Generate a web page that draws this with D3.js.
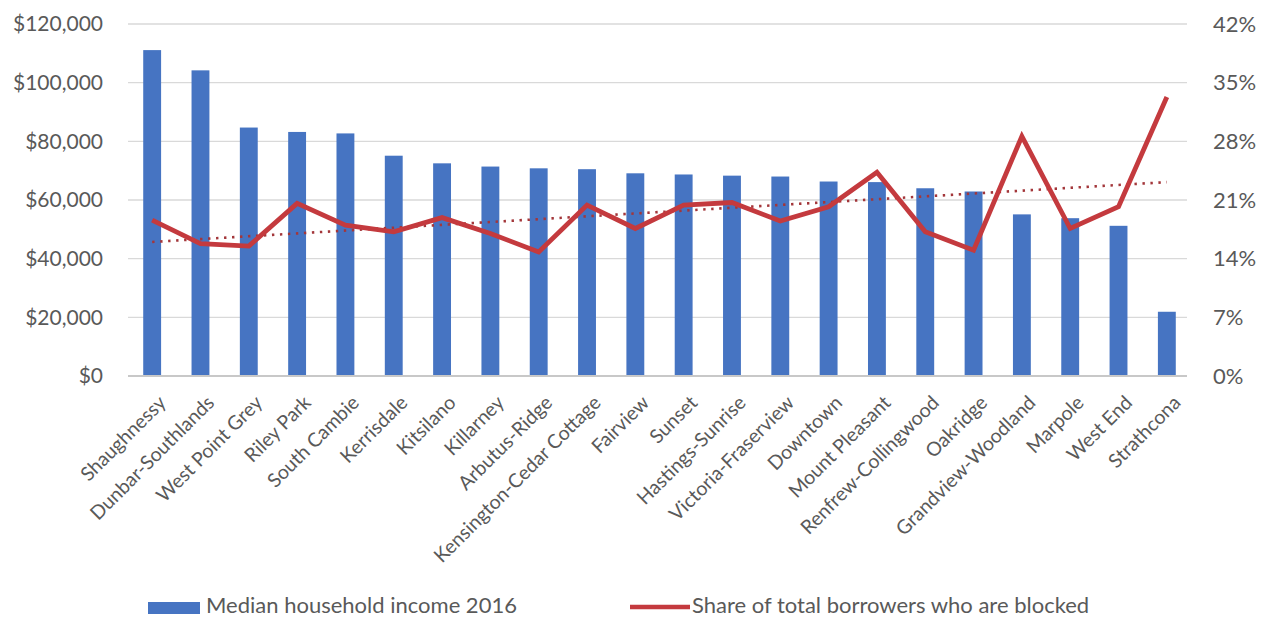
<!DOCTYPE html>
<html>
<head>
<meta charset="utf-8">
<script src="https://cdn.jsdelivr.net/npm/d3@7"></script>
<style>
  html, body { margin: 0; padding: 0; background: #fff; }
  svg { display: block; font-family: Lato, "Open Sans", sans-serif; }
</style>
</head>
<body>
<svg id="chart" width="1265" height="620"></svg>
<script>
// Vancouver neighbourhoods, ordered by median household income
const neighbourhoods = [
  "Shaughnessy", "Dunbar-Southlands", "West Point Grey", "Riley Park", "South Cambie",
  "Kerrisdale", "Kitsilano", "Killarney", "Arbutus-Ridge", "Kensington-Cedar Cottage",
  "Fairview", "Sunset", "Hastings-Sunrise", "Victoria-Fraserview", "Downtown",
  "Mount Pleasant", "Renfrew-Collingwood", "Oakridge", "Grandview-Woodland", "Marpole",
  "West End", "Strathcona"
];

// Median household income 2016 (CAD)
const medianIncome = [
  111100, 104200, 84700, 83200, 82700,
  75100, 72500, 71400, 70800, 70500,
  69100, 68700, 68300, 68000, 66300,
  66100, 64000, 62900, 55100, 53800,
  51200, 21900
];

// Share of total borrowers who are blocked (fraction)
const blockedShare = [
  0.186, 0.158, 0.155, 0.206, 0.180,
  0.172, 0.189, 0.170, 0.148, 0.204,
  0.176, 0.204, 0.207, 0.185, 0.202,
  0.243, 0.172, 0.150, 0.286, 0.176,
  0.202, 0.333
];

const incomeTicks = [0, 20000, 40000, 60000, 80000, 100000, 120000];
const shareTicks = [0, 0.07, 0.14, 0.21, 0.28, 0.35, 0.42];

const legendLabels = ["Median household income 2016", "Share of total borrowers who are blocked"];

const colors = { bar: "#4674c2", line: "#c43a3e", trend: "#a3363a", grid: "#d9d9d9", text: "#595959" };

const svg = d3.select("#chart");
const plot = { left: 128, right: 1191, top: 24, bottom: 376 };

const x = d3.scaleBand()
  .domain(neighbourhoods)
  .range([plot.left, plot.right])
  .paddingInner(0.63)
  .paddingOuter(0.315);

const yIncome = d3.scaleLinear().domain([0, 120000]).range([plot.bottom, plot.top]);
const yShare = d3.scaleLinear().domain([0, 0.42]).range([plot.bottom, plot.top]);

const cx = d => x(d) + x.bandwidth() / 2;

// Horizontal gridlines
svg.append("g")
  .selectAll("line")
  .data(incomeTicks.slice(1))
  .join("line")
  .attr("x1", plot.left).attr("x2", plot.right - 4)
  .attr("y1", d => yIncome(d)).attr("y2", d => yIncome(d))
  .attr("stroke", colors.grid).attr("stroke-width", 1.4);

// Left axis: income
const leftAxis = svg.append("g")
  .attr("transform", `translate(${plot.left},0)`)
  .call(d3.axisLeft(yIncome).tickValues(incomeTicks).tickSize(0).tickPadding(25)
    .tickFormat(d => "$" + d3.format(",")(d)));
leftAxis.select(".domain").remove();
leftAxis.selectAll("text").attr("fill", colors.text).style("font-size", "21px")
  .style("font-family", "Lato, sans-serif");

// Right axis: share
const rightAxis = svg.append("g")
  .attr("transform", `translate(${plot.right},0)`)
  .call(d3.axisRight(yShare).tickValues(shareTicks).tickSize(0).tickPadding(22)
    .tickFormat(d3.format(".0%")));
rightAxis.select(".domain").remove();
rightAxis.selectAll("text").attr("fill", colors.text).style("font-size", "22px")
  .style("font-family", "Lato, sans-serif");

// Bars
svg.append("g")
  .selectAll("rect")
  .data(neighbourhoods)
  .join("rect")
  .attr("x", d => x(d))
  .attr("width", x.bandwidth())
  .attr("y", (d, i) => yIncome(medianIncome[i]))
  .attr("height", (d, i) => yIncome(0) - yIncome(medianIncome[i]))
  .attr("fill", colors.bar);

// Baseline
svg.append("line")
  .attr("x1", plot.left).attr("x2", plot.right - 4)
  .attr("y1", plot.bottom).attr("y2", plot.bottom)
  .attr("stroke", "#c8c8c8").attr("stroke-width", 2);

// Linear trendline fitted to blocked share by rank
const n = blockedShare.length;
const meanI = (n - 1) / 2;
const meanS = d3.mean(blockedShare);
const slope = d3.sum(blockedShare, (s, i) => (i - meanI) * (s - meanS)) /
              d3.sum(blockedShare, (s, i) => (i - meanI) ** 2);
const trendAt = i => meanS + slope * (i - meanI);
const trendPts = [0, n - 1].map(i => [cx(neighbourhoods[i]), yShare(trendAt(i))]);

svg.append("path")
  .attr("d", d3.line()(trendPts))
  .attr("fill", "none")
  .attr("stroke", colors.trend)
  .attr("stroke-width", 2.6)
  .attr("stroke-dasharray", "2.4,5.6");

// Share line
svg.append("path")
  .datum(blockedShare)
  .attr("d", d3.line()
    .x((d, i) => cx(neighbourhoods[i]))
    .y(d => yShare(d)))
  .attr("fill", "none")
  .attr("stroke", colors.line)
  .attr("stroke-width", 4.8)
  .attr("stroke-linejoin", "miter");

// Category labels, rotated
svg.append("g")
  .selectAll("text")
  .data(neighbourhoods)
  .join("text")
  .attr("transform", d => `translate(${cx(d) + 5},${plot.bottom + 18}) rotate(-45)`)
  .attr("text-anchor", "end")
  .attr("dy", "0.72em")
  .attr("fill", colors.text)
  .style("font-size", "19.5px")
  .text(d => d);

// Legend
const legend = svg.append("g");
legend.append("rect")
  .attr("x", 148).attr("y", 602).attr("width", 52).attr("height", 12)
  .attr("fill", colors.bar);
legend.append("text")
  .attr("x", 206).attr("y", 613)
  .attr("fill", colors.text).style("font-size", "22px")
  .text(legendLabels[0]);
legend.append("line")
  .attr("x1", 630).attr("x2", 690).attr("y1", 607).attr("y2", 607)
  .attr("stroke", colors.line).attr("stroke-width", 4.5);
legend.append("text")
  .attr("x", 692).attr("y", 613)
  .attr("fill", colors.text).style("font-size", "22px")
  .text(legendLabels[1]);
</script>
</body>
</html>
